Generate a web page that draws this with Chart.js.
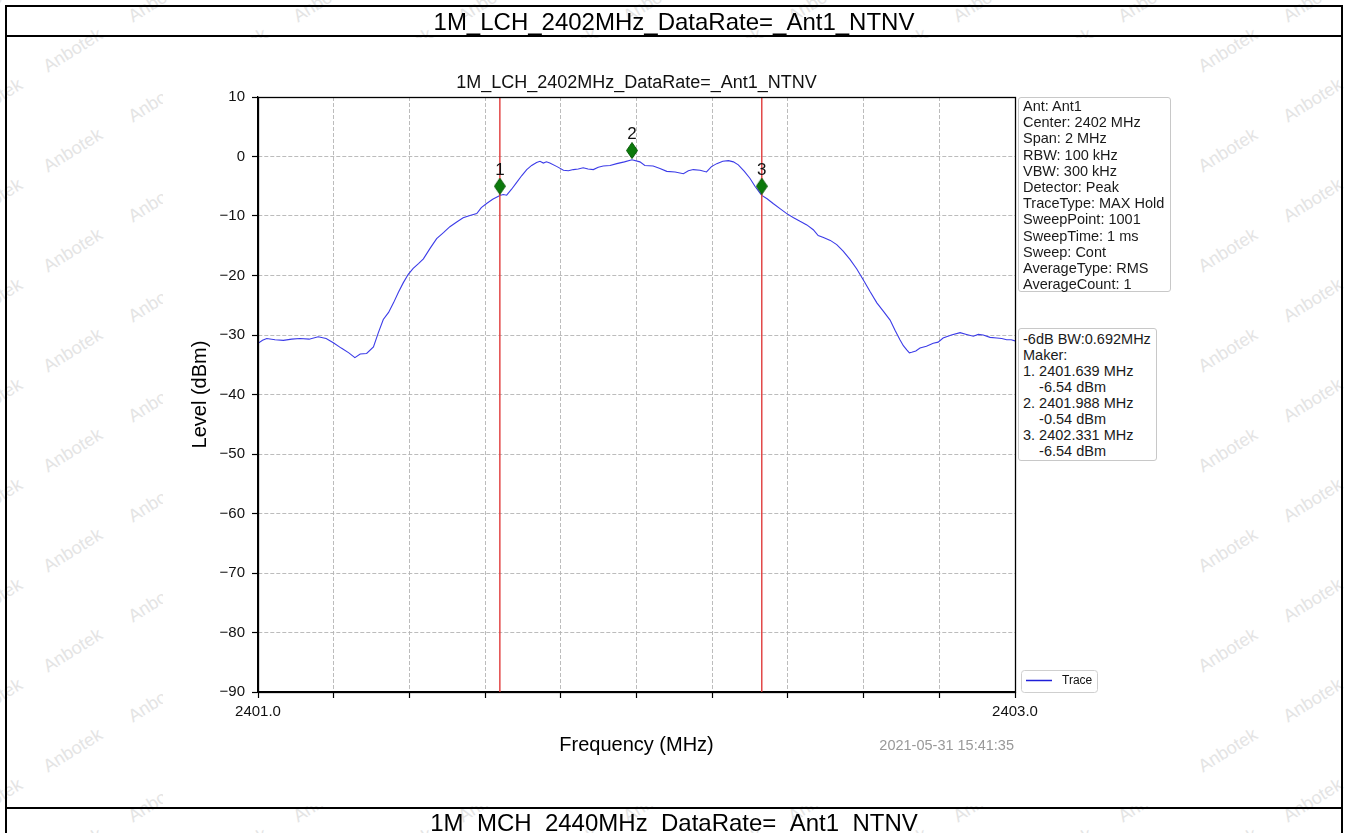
<!DOCTYPE html>
<html>
<head>
<meta charset="utf-8">
<title>1M_LCH_2402MHz_DataRate=_Ant1_NTNV</title>
<script src="https://cdn.jsdelivr.net/npm/chart.js@4.4.1/dist/chart.umd.min.js"></script>
<style>
  html, body { margin:0; padding:0; background:#fff; overflow:hidden; }
  body { width:1348px; height:833px; position:relative; font-family:"Liberation Sans", Arial, sans-serif; color:#111; }
  #wm { position:absolute; left:0; top:0; width:1348px; height:833px; overflow:hidden; z-index:0; }
  #wm span { position:absolute; font-size:18px; color:#e4e4e4; transform:rotate(-32deg); white-space:nowrap; }
  #fig { position:absolute; left:163px; top:38px; width:1022px; height:768px; background:#fff; z-index:1; }
  #chart { position:absolute; left:0; top:0; z-index:2; }
  .ln { position:absolute; background:#000; z-index:3; }
  .hdr { position:absolute; left:6px; width:1336px; text-align:center; font-size:24px; line-height:28px; z-index:3; white-space:nowrap; color:#000; }
  .info { position:absolute; border:1px solid #c8c8c8; border-radius:3px; background:#fff; font-size:14.5px; white-space:pre; padding:0 3px 0 4px; z-index:4; color:#1a1a1a; box-sizing:border-box; }
  #stamp { position:absolute; right:334px; top:736px; font-size:14.5px; line-height:18px; color:#999; z-index:4; white-space:nowrap; }
</style>
</head>
<body>
<div id="wm"></div>
<div id="fig"></div>
<canvas id="chart" width="1348" height="833"></canvas>

<div class="ln" style="left:5px;top:5px;width:1338px;height:2px;"></div>
<div class="ln" style="left:5px;top:5px;width:2px;height:828px;"></div>
<div class="ln" style="left:1341px;top:5px;width:2px;height:828px;"></div>
<div class="ln" style="left:5px;top:35px;width:1338px;height:2px;"></div>
<div class="ln" style="left:5px;top:807px;width:1338px;height:2px;"></div>
<div class="hdr" id="hdrTop" style="top:8px;"></div>
<div class="hdr" id="hdrBottom" style="top:809px;"></div>

<div class="info" id="info1" style="left:1018px;top:97px;width:153px;height:195px;line-height:16.2px;padding-top:0;"></div>
<div class="info" id="info2" style="left:1018px;top:328px;width:139px;height:133px;line-height:16px;padding-top:2px;"></div>
<div id="stamp"></div>

<script>
// ---------------- data ----------------
const chartTitle = '1M_LCH_2402MHz_DataRate=_Ant1_NTNV';
const nextTitle = '1M_MCH_2440MHz_DataRate=_Ant1_NTNV';
const xTitle = 'Frequency (MHz)';
const yTitle = 'Level (dBm)';
const timeStamp = '2021-05-31 15:41:35';
const xMin = 2401.0, xMax = 2403.0, xStep = 0.2;
const yMin = -90, yMax = 10, yStep = 10;
const xTickLabels = ['2401.0', '2403.0'];

const freqs = [
  2401.000, 2401.012, 2401.023, 2401.045, 2401.067, 2401.089, 2401.111, 2401.135, 2401.159, 2401.180,
  2401.199, 2401.220, 2401.240, 2401.256, 2401.270, 2401.287, 2401.305, 2401.318, 2401.331, 2401.345,
  2401.358, 2401.371, 2401.384, 2401.397, 2401.410, 2401.424, 2401.437, 2401.455, 2401.472, 2401.490,
  2401.507, 2401.525, 2401.542, 2401.560, 2401.578, 2401.590, 2401.604, 2401.620, 2401.639, 2401.648,
  2401.657, 2401.670, 2401.683, 2401.697, 2401.710, 2401.723, 2401.736, 2401.745, 2401.754, 2401.762,
  2401.771, 2401.790, 2401.807, 2401.820, 2401.833, 2401.846, 2401.859, 2401.872, 2401.886, 2401.899,
  2401.912, 2401.930, 2401.948, 2401.968, 2401.988, 2402.009, 2402.022, 2402.044, 2402.062, 2402.080,
  2402.102, 2402.124, 2402.137, 2402.150, 2402.168, 2402.185, 2402.198, 2402.212, 2402.228, 2402.243,
  2402.256, 2402.269, 2402.285, 2402.300, 2402.313, 2402.326, 2402.331, 2402.345, 2402.361, 2402.380,
  2402.397, 2402.415, 2402.432, 2402.450, 2402.467, 2402.480, 2402.494, 2402.512, 2402.529, 2402.546,
  2402.564, 2402.582, 2402.599, 2402.617, 2402.635, 2402.652, 2402.670, 2402.683, 2402.696, 2402.705,
  2402.714, 2402.721, 2402.727, 2402.738, 2402.749, 2402.766, 2402.784, 2402.797, 2402.810, 2402.832,
  2402.855, 2402.872, 2402.890, 2402.903, 2402.916, 2402.934, 2402.952, 2402.965, 2402.978, 2402.990,
  2403.000
];
const levels = [
  -31.4, -30.9, -30.6, -30.8, -30.9, -30.7, -30.6, -30.7, -30.3, -30.6,
  -31.3, -32.2, -33.0, -33.8, -33.2, -33.1, -32.0, -29.6, -27.4, -26.2,
  -24.6, -22.8, -21.2, -19.8, -18.8, -18.0, -17.2, -15.4, -13.8, -12.8,
  -11.8, -11.0, -10.3, -9.9, -9.6, -8.6, -7.9, -7.2, -6.54, -6.4,
  -6.5, -5.5, -4.4, -3.2, -2.2, -1.5, -1.0, -0.8, -1.1, -0.9,
  -1.1, -1.7, -2.3, -2.4, -2.2, -2.1, -1.9, -2.1, -2.2, -1.8,
  -1.6, -1.5, -1.2, -0.9, -0.54, -0.9, -1.5, -1.6, -2.0, -2.5,
  -2.6, -2.9, -2.4, -2.2, -2.3, -2.6, -1.7, -1.2, -0.8, -0.7,
  -0.9, -1.4, -2.5, -3.7, -5.0, -6.1, -6.54, -7.1, -7.9, -8.8,
  -9.6, -10.3, -10.9, -11.5, -12.3, -13.3, -13.6, -14.1, -14.8, -15.9,
  -17.3, -18.9, -20.7, -22.7, -24.6, -26.0, -27.5, -29.2, -30.8, -31.8,
  -32.5, -33.0, -32.9, -32.7, -32.2, -31.9, -31.4, -31.2, -30.5, -30.0,
  -29.6, -29.9, -30.2, -29.9, -30.0, -30.4, -30.5, -30.6, -30.8, -30.8,
  -31.0
];

const markerFreqs = [2401.639, 2401.988, 2402.331];
const markerLevels = [-6.54, -0.54, -6.54];
const markerPlotY = [-5.0, 1.0, -5.0];
const markerNames = ['1', '2', '3'];
const bwLineFreqs = [2401.639, 2402.331];
const bwText = '-6dB BW:0.692MHz';

const infoLines = [
  'Ant: Ant1', 'Center: 2402 MHz', 'Span: 2 MHz', 'RBW: 100 kHz', 'VBW: 300 kHz',
  'Detector: Peak', 'TraceType: MAX Hold', 'SweepPoint: 1001', 'SweepTime: 1 ms',
  'Sweep: Cont', 'AverageType: RMS', 'AverageCount: 1'
];
const traceLabel = 'Trace';

// ---------------- text blocks ----------------
document.getElementById('hdrTop').textContent = chartTitle;
document.getElementById('hdrBottom').textContent = nextTitle;
document.getElementById('stamp').textContent = timeStamp;
document.getElementById('info1').textContent = infoLines.join('\n');
const mk = [bwText, 'Maker:'];
markerFreqs.forEach((f, i) => {
  mk.push(markerNames[i] + '. ' + f.toFixed(3) + ' MHz');
  mk.push('    ' + markerLevels[i].toFixed(2) + ' dBm');
});
document.getElementById('info2').textContent = mk.join('\n');

// watermark decoration
(function () {
  const wm = document.getElementById('wm');
  let row = 0;
  for (let y = -10; y < 850; y += 50, row++) {
    for (let x = -40 + (row % 2) * 80; x < 1360; x += 165) {
      const s = document.createElement('span');
      s.textContent = 'Anbotek';
      s.style.left = x + 'px';
      s.style.top = y + 'px';
      wm.appendChild(s);
    }
  }
})();

// ---------------- chart ----------------
const FONT = "'Liberation Sans', Arial, sans-serif";
Chart.defaults.font.family = FONT;
Chart.defaults.color = '#000';

const diamond = document.createElement('canvas');
diamond.width = 12; diamond.height = 17;
(function () {
  const c = diamond.getContext('2d');
  c.beginPath();
  c.moveTo(6, 0.5); c.lineTo(11.5, 8.5); c.lineTo(6, 16.5); c.lineTo(0.5, 8.5);
  c.closePath();
  c.fillStyle = '#0b7a0b'; c.fill();
  c.strokeStyle = '#075a07'; c.lineWidth = 1; c.stroke();
})();

const datasets = [{
  label: traceLabel,
  data: freqs.map((f, i) => ({ x: f, y: levels[i] })),
  borderColor: '#3b3be8',
  borderWidth: 1.1,
  pointRadius: 0,
  showLine: true,
  tension: 0,
  order: 3
}];
bwLineFreqs.forEach((f) => {
  datasets.push({
    label: 'bw line',
    data: [{ x: f, y: yMin }, { x: f, y: yMax }],
    borderColor: '#e03a3a',
    borderWidth: 1.4,
    pointRadius: 0,
    showLine: true,
    order: 2
  });
});
datasets.push({
  label: 'markers',
  data: markerFreqs.map((f, i) => ({ x: f, y: markerPlotY[i] })),
  pointStyle: diamond,
  pointRadius: 7,
  showLine: false,
  order: 1
});

const decor = {
  id: 'decor',
  afterDatasetsDraw(chart) {
    const { ctx, chartArea: a, scales } = chart;
    ctx.save();
    // plot frame
    ctx.strokeStyle = '#000';
    ctx.lineWidth = 1.3;
    ctx.strokeRect(Math.round(a.left) + 0.5, Math.round(a.top) + 0.5,
      Math.round(a.right - a.left), Math.round(a.bottom - a.top));
    // marker numbers
    ctx.fillStyle = '#111';
    ctx.font = '17px ' + FONT;
    ctx.textAlign = 'center';
    ctx.textBaseline = 'middle';
    markerFreqs.forEach((f, i) => {
      const x = scales.x.getPixelForValue(f);
      const y = scales.y.getPixelForValue(markerPlotY[i]);
      ctx.fillText(markerNames[i], x, y - 16);
    });
    // legend box
    const lx = a.right + 6, lb = a.bottom, lw = 76, lh = 22;
    ctx.beginPath();
    if (ctx.roundRect) ctx.roundRect(lx + 0.5, lb - lh + 0.5, lw, lh, 3);
    else ctx.rect(lx + 0.5, lb - lh + 0.5, lw, lh);
    ctx.fillStyle = '#fff';
    ctx.fill();
    ctx.strokeStyle = '#cfcfcf';
    ctx.lineWidth = 1;
    ctx.stroke();
    const ds = chart.data.datasets[0];
    ctx.beginPath();
    ctx.moveTo(lx + 5, lb - 11.5);
    ctx.lineTo(lx + 31, lb - 11.5);
    ctx.strokeStyle = '#1f1fd8';
    ctx.lineWidth = 1.5;
    ctx.stroke();
    ctx.fillStyle = '#111';
    ctx.font = '12px ' + FONT;
    ctx.textAlign = 'left';
    ctx.fillText(ds.label, lx + 41, lb - 11);
    ctx.restore();
  }
};

new Chart(document.getElementById('chart'), {
  type: 'scatter',
  data: { datasets },
  options: {
    responsive: false,
    animation: false,
    events: [],
    layout: { padding: { left: 188, right: 333, top: 40, bottom: 76 } },
    plugins: {
      legend: { display: false },
      tooltip: { enabled: false },
      title: {
        display: true,
        text: chartTitle,
        fullSize: false,
        color: '#111',
        font: { size: 18, weight: 'normal', family: FONT },
        padding: { top: 32.2, bottom: 3.2 }
      }
    },
    scales: {
      x: {
        type: 'linear',
        min: xMin, max: xMax,
        afterFit(s) { s.height = 65; },
        ticks: {
          stepSize: xStep,
          autoSkip: false,
          maxRotation: 0,
          padding: 5,
          color: '#111',
          font: { size: 15, family: FONT },
          callback(v) {
            if (Math.abs(v - xMin) < 1e-6) return xTickLabels[0];
            if (Math.abs(v - xMax) < 1e-6) return xTickLabels[1];
            return '';
          }
        },
        grid: { color: '#b4b4b4', lineWidth: 0.9, tickColor: '#000', tickLength: 6, tickWidth: 1.2 },
        border: { display: true, color: '#000', width: 1.3, dash: [4, 2] },
        title: { display: true, text: xTitle, color: '#000', font: { size: 20, family: FONT }, padding: 0 }
      },
      y: {
        min: yMin, max: yMax,
        afterFit(s) { s.width = 70; },
        ticks: {
          stepSize: yStep,
          padding: 7,
          color: '#111',
          font: { size: 15, family: FONT },
          callback(v) { return String(v).replace('-', '\u2212'); }
        },
        grid: { color: '#b4b4b4', lineWidth: 0.9, tickColor: '#000', tickLength: 6, tickWidth: 1.2 },
        border: { display: true, color: '#000', width: 1.3, dash: [4, 2] },
        title: { display: true, text: yTitle, color: '#000', font: { size: 20, family: FONT }, padding: 0 }
      }
    }
  },
  plugins: [decor]
});
</script>
</body>
</html>
